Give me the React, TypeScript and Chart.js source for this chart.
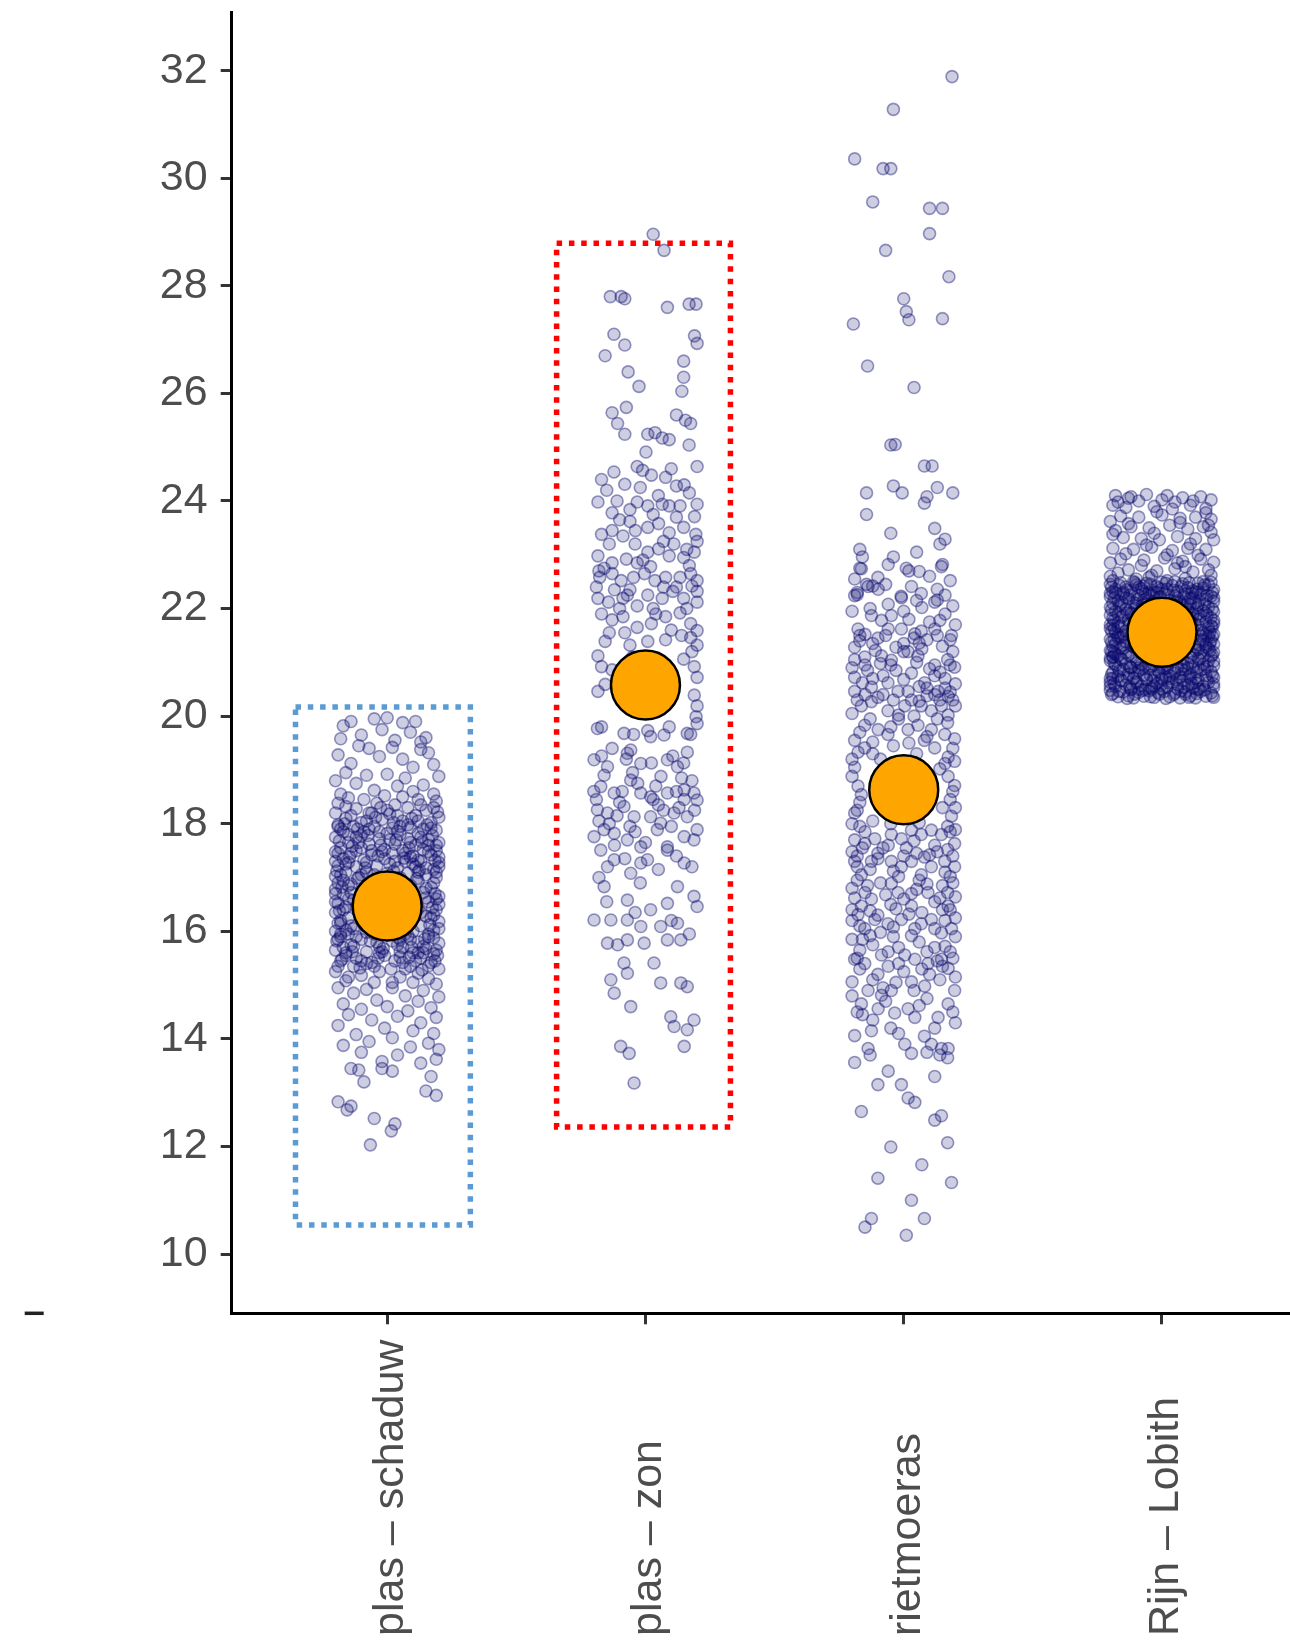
import { useEffect, useRef } from "react";
import { Chart, registerables } from "chart.js";

Chart.register(...registerables);

// ---------- data ----------
const categories = ["plas – schaduw", "plas – zon", "rietmoeras", "Rijn – Lobith"];
const yTickValues = [10, 12, 14, 16, 18, 20, 22, 24, 26, 28, 30, 32];
const means = [16.47, 20.58, 18.63, 21.56];

// jittered observations: [offset from category centre, value]
const schaduwPts: [number, number][] = [
  [-0.17,19.82],[-0.14,19.9],[-0.05,19.95],[0.0,19.97],[0.06,19.88],[0.11,19.9],[-0.02,19.75],[0.09,19.7],[-0.1,19.65],[0.15,19.6],[-0.18,19.58],[0.03,19.55],[0.13,19.52],
  [-0.11,19.45],[-0.07,19.4],[0.02,19.42],[0.13,19.38],[0.16,19.32],[-0.19,19.28],[-0.03,19.25],[0.06,19.2],[-0.14,19.12],[0.18,19.1],[0.1,19.05],
  [-0.16,18.95],[-0.08,18.9],[0.0,18.92],[0.07,18.85],[0.2,18.88],[-0.2,18.8],[-0.12,18.75],[0.04,18.7],[0.14,18.72],[-0.05,18.62],[0.1,18.6],[-0.18,18.55],[0.18,18.55],[-0.01,18.52],[0.06,18.5],
  [-0.15,18.48],[-0.09,18.45],[0.12,18.45],[0.19,18.42],[-0.19,18.38],[-0.04,18.38],[0.03,18.35],[0.08,18.3],[-0.12,18.28],[0.15,18.25],[-0.2,18.2],[-0.07,18.2],[0.01,18.18],[0.11,18.15],[0.2,18.12],[-0.16,18.1],[-0.02,18.08],[0.06,18.05],[0.17,18.02],[-0.1,18.02],
  [-0.19,17.98],[-0.13,17.95],[-0.05,17.95],[0.02,17.92],[0.09,17.93],[0.14,17.9],[0.19,17.88],[-0.17,17.85],[-0.09,17.85],[0.0,17.82],[0.05,17.8],[0.12,17.82],[-0.2,17.75],[-0.12,17.75],[-0.03,17.72],[0.08,17.72],[0.16,17.7],[0.2,17.65],[-0.15,17.65],[-0.07,17.62],[0.03,17.62],[0.11,17.6],[-0.18,17.55],[-0.1,17.55],[-0.01,17.52],[0.06,17.5],[0.14,17.52],[0.19,17.5],
  [-0.2,17.48],[-0.14,17.45],[-0.06,17.42],[0.02,17.45],[0.1,17.4],[0.17,17.42],[-0.17,17.35],[-0.09,17.32],[-0.01,17.35],[0.07,17.3],[0.13,17.3],[0.2,17.28],[-0.19,17.22],[-0.12,17.2],[-0.04,17.22],[0.04,17.18],[0.11,17.2],[0.18,17.15],[-0.16,17.1],[-0.08,17.1],[0.0,17.08],[0.08,17.08],[0.15,17.05],[-0.2,17.02],[-0.11,17.0],[0.05,17.0],[0.19,17.0],
  [-0.17,16.95],[-0.03,16.95],[0.12,16.93],[-0.14,16.88],[-0.07,16.85],[0.02,16.88],[0.09,16.85],[0.17,16.82],[-0.2,16.78],[-0.1,16.75],[0.05,16.75],[0.14,16.72],[-0.17,16.68],[-0.05,16.65],[0.2,16.65],[0.1,16.62],[-0.13,16.58],[0.0,16.58],[0.16,16.55],[-0.19,16.52],[-0.08,16.5],[0.07,16.52],
  [-0.16,16.45],[-0.02,16.45],[0.12,16.42],[0.19,16.4],[-0.2,16.35],[-0.11,16.35],[0.04,16.32],[0.15,16.28],[-0.15,16.25],[-0.06,16.22],[0.09,16.2],[0.2,16.18],[-0.18,16.15],[-0.09,16.12],[0.01,16.12],[0.13,16.1],[-0.13,16.05],[0.06,16.05],[0.18,16.02],[-0.2,16.0],
  [-0.15,15.95],[-0.05,15.95],[0.08,15.92],[0.16,15.9],[-0.19,15.85],[-0.1,15.85],[0.02,15.82],[0.12,15.8],[0.2,15.78],[-0.14,15.75],[-0.03,15.72],[0.06,15.7],[0.15,15.68],[-0.2,15.65],[-0.08,15.62],[0.1,15.6],[0.18,15.58],[-0.16,15.55],[-0.01,15.55],[0.05,15.52],[-0.12,15.5],[0.13,15.5],
  [-0.18,15.45],[-0.06,15.42],[0.03,15.45],[0.17,15.42],[-0.13,15.35],[0.09,15.35],[0.2,15.3],[-0.2,15.25],[-0.03,15.25],[0.12,15.22],[-0.1,15.18],[0.05,15.15],[0.16,15.12],[-0.16,15.08],[-0.05,15.05],[0.1,15.05],[0.19,15.02],
  [-0.19,14.95],[-0.08,14.92],[0.02,14.95],[0.14,14.9],[-0.13,14.85],[0.07,14.8],[0.2,14.78],[-0.04,14.72],[0.12,14.7],[-0.17,14.65],[0.0,14.6],[0.17,14.58],[-0.1,14.55],[0.08,14.52],
  [-0.15,14.45],[0.04,14.42],[0.19,14.4],[-0.06,14.35],[0.13,14.3],[-0.19,14.25],[-0.01,14.2],[0.1,14.15],[0.18,14.1],[-0.12,14.08],[0.02,14.02],
  [-0.07,13.95],[0.16,13.92],[-0.17,13.88],[0.09,13.85],[0.2,13.8],[-0.1,13.75],[0.04,13.7],[0.19,13.62],[-0.02,13.58],[0.13,13.55],
  [-0.14,13.45],[-0.11,13.42],[-0.02,13.45],[0.02,13.4],[0.17,13.3],[0.15,13.03],[-0.09,13.2],
  [-0.19,12.83],[-0.155,12.68],[-0.14,12.75],[0.19,12.95],[-0.05,12.52],
  [-0.065,12.03],[0.016,12.29],[0.03,12.42],
];
const schaduwCore: [number, number][] = [
  [-0.18,17.9],[-0.1,17.78],[0.04,17.86],[0.16,17.6],[-0.06,17.5],[0.09,17.38],[-0.15,17.28],[0.01,17.25],[0.15,17.18],[-0.05,17.05],[0.12,17.1],[-0.19,16.9],[0.18,16.9],[-0.15,16.6],[0.18,16.3],[-0.18,16.2],[0.16,15.95],[-0.17,15.7],[0.19,15.65],[-0.08,15.4],
  [0.07,15.3],[-0.19,15.35],[0.14,15.6],[-0.12,15.9],[0.1,16.0],[-0.14,16.1],[-0.2,16.55],[0.2,16.5],[0.2,17.2],[-0.2,17.3],[0.08,17.98],[-0.08,18.05],[0.13,18.35],[-0.16,18.32],[0.0,18.25],[0.05,15.85],[-0.03,15.6],[0.11,15.45],[-0.15,15.15],[0.02,15.05],
  [-0.185,17.68],[-0.135,17.58],[-0.075,17.78],[-0.025,17.6],[0.035,17.7],[0.085,17.55],[0.135,17.66],[0.175,17.78],
  [-0.195,17.12],[-0.145,17.38],[-0.085,17.18],[-0.035,17.4],[0.025,17.12],[0.065,17.36],[0.125,17.14],[0.185,17.32],
  [-0.175,16.82],[-0.115,16.98],[0.115,16.98],[0.185,16.7],[-0.185,16.38],[0.175,16.44],[-0.16,16.02],[0.165,16.12],
  [-0.195,15.82],[-0.135,15.62],[-0.065,15.82],[-0.015,15.68],[0.045,15.88],[0.095,15.7],[0.145,15.86],[0.195,15.55],
  [-0.175,15.48],[-0.105,15.32],[-0.035,15.5],[0.015,15.3],[0.085,15.52],[0.135,15.28],[0.185,15.45],
  [-0.165,18.0],[-0.115,17.9],[-0.045,18.12],[0.025,18.02],[0.095,18.1],[0.155,17.98],[0.195,18.22],[-0.025,18.3],
  [-0.09,16.15],[0.08,16.28],[-0.12,16.45],[0.13,16.35],[-0.14,16.72],[0.15,16.62],[-0.1,17.05],[0.1,17.25],
  [-0.18,15.95],[0.07,15.95],[-0.05,15.35],[0.05,15.62],
  [-0.19,17.95],[-0.15,17.8],[-0.11,17.65],[-0.07,17.9],[-0.03,17.85],[0.01,17.7],[0.05,17.95],[0.09,17.65],[0.13,17.75],[0.17,17.92],[0.19,17.6],
  [-0.19,17.45],[-0.16,17.25],[-0.12,17.5],[-0.08,17.28],[-0.02,17.48],[0.03,17.3],[0.07,17.45],[0.12,17.32],[0.16,17.48],[0.2,17.38],
  [-0.18,17.05],[-0.15,16.85],[0.15,16.8],[0.19,17.1],[-0.2,16.7],[0.19,16.6],[-0.17,16.4],[0.17,16.25],[-0.19,16.15],[0.2,16.05],
  [-0.18,15.9],[-0.13,15.72],[-0.08,15.98],[-0.04,15.8],[0.0,15.98],[0.04,15.75],[0.09,15.85],[0.14,15.72],[0.18,15.88],
  [-0.16,15.6],[-0.1,15.45],[-0.02,15.62],[0.06,15.42],[0.12,15.6],[0.16,15.36],[-0.14,18.15],[-0.06,18.2],[0.04,18.15],[0.12,18.05],[0.18,18.3],
];

const zonPts: [number, number][] = [
  [0.03,28.96],[0.072,28.66],
  [-0.136,27.8],[-0.094,27.8],[-0.08,27.76],[0.085,27.6],[0.169,27.66],[0.196,27.66],
  [-0.122,27.1],[-0.08,26.9],[0.19,27.07],[0.2,26.93],
  [-0.156,26.7],[0.148,26.6],[0.148,26.3],[0.141,26.04],[-0.067,26.4],[-0.025,26.13],
  [-0.129,25.64],[-0.074,25.74],[-0.108,25.44],[-0.08,25.24],[0.12,25.6],[0.155,25.5],[0.175,25.44],[0.009,25.24],[0.037,25.27],[0.065,25.17],[0.092,25.14],[0.169,25.04],[0.002,24.91],
  [0.2,24.64],[-0.122,24.54],[-0.08,24.31],[-0.032,24.64],[-0.011,24.57],[0.023,24.48],[0.078,24.44],[0.12,24.28],
  [-0.184,23.98],[-0.129,23.78],[-0.06,23.84],[-0.032,23.98],[0.009,23.91],[0.065,23.94],[0.092,23.91],[0.134,23.91],[0.2,23.94],[0.19,23.71],
  [-0.17,23.38],[-0.129,23.45],[-0.087,23.35],[-0.039,23.45],[0.009,23.51],[0.051,23.58],[0.092,23.41],[0.148,23.51],[0.2,23.25],[0.195,23.38],
  [-0.184,22.98],[-0.129,22.85],[-0.074,22.92],[-0.032,22.85],[0.009,23.05],[0.051,23.11],[0.092,22.98],[0.148,22.95],[0.189,23.05],
  [-0.177,22.58],[-0.129,22.65],[-0.094,22.52],[-0.046,22.58],[-0.004,22.65],[0.037,22.52],[0.078,22.58],[0.134,22.58],[0.175,22.65],[0.2,22.52],
  [-0.184,22.19],[-0.143,22.12],[-0.087,22.19],[-0.032,22.05],[0.009,22.25],[0.065,22.19],[0.106,22.32],[0.148,22.19],[0.2,22.32],[0.2,22.12],
  [-0.129,21.79],[-0.087,21.85],[-0.032,21.65],[0.023,21.72],[0.078,21.85],[0.134,21.92],[0.175,21.72],[0.2,21.59],
  [-0.156,21.39],[-0.06,21.32],[0.009,21.39],[0.078,21.42],[0.175,21.46],[0.2,21.32],
  [-0.184,21.12],[-0.17,20.92],[-0.129,20.86],[0.148,21.06],[0.189,20.92],[0.2,20.72],
  [-0.184,20.46],[-0.156,20.59],[0.189,20.39],[0.2,20.19],[0.196,19.99],
  [-0.17,19.8],[-0.046,19.66],[0.009,19.73],[0.092,19.8],[0.175,19.66],[0.2,19.86],
  [-0.17,19.26],[-0.129,19.4],[-0.074,19.2],[0.023,19.13],[0.106,19.26],[0.148,19.13],[0.162,19.33],
  [-0.15,24.2],[0.05,24.1],[0.17,24.15],[-0.1,23.65],[0.12,23.7],[-0.04,23.2],[0.07,23.25],[0.17,22.8],[-0.16,22.75],[0.02,22.78],[-0.06,22.35],[0.12,22.4],[-0.19,22.4],[0.16,22.0],[-0.1,22.0],[0.04,21.9],[-0.14,21.55],[0.1,21.6],[-0.05,21.1],[0.18,21.2],
  [-0.17,24.4],[-0.02,24.25],[0.1,24.6],[-0.11,24.0],[0.15,24.3],[-0.06,23.62],[0.03,23.75],[0.16,23.1],[-0.14,23.2],[-0.01,22.9],[0.11,23.2],[-0.18,22.7],[0.07,22.4],[-0.07,22.25],[0.18,22.42],[-0.12,22.35],[0.03,22.0],[-0.17,21.9],[0.14,21.5],[-0.08,21.55],
  [-0.186,19.77],[-0.083,19.68],[0.02,19.62],[0.072,19.65],[0.162,19.68],
  [-0.199,19.19],[-0.147,19.06],[-0.057,19.37],[-0.07,19.31],[-0.018,19.12],[0.085,19.19],[0.124,19.06],
  [-0.173,18.69],[-0.121,18.57],[-0.057,18.81],[-0.018,18.57],[0.02,18.5],[0.085,18.57],[0.15,18.63],[0.188,18.57],[0.2,18.44],
  [-0.186,18.26],[-0.147,18.2],[-0.083,18.32],[-0.044,18.13],[0.02,18.13],[0.059,18.01],[0.111,18.2],[0.162,18.13],[0.2,17.89],
  [-0.199,17.76],[-0.16,17.89],[-0.121,17.82],[-0.07,17.7],[-0.018,17.57],[0.046,17.89],[0.085,17.57],[0.15,17.76],[0.188,17.7],
  [-0.173,17.51],[-0.121,17.33],[-0.147,17.2],[-0.057,17.08],[-0.018,17.27],[0.008,17.33],[0.085,17.51],[0.15,17.27],
  [-0.16,16.83],[-0.07,16.58],[0.02,16.4],[0.085,16.52],[0.124,16.83],[0.188,16.65],[0.2,16.46],
  [-0.199,16.21],[-0.134,16.21],[-0.07,16.21],[-0.018,16.09],[0.059,16.09],[0.124,16.15],[0.085,15.84],[0.137,15.84],[-0.147,15.78],[-0.108,15.75],[-0.07,15.84],[-0.005,15.78],
  [-0.083,15.41],[-0.07,15.22],[0.033,15.41],[-0.134,15.1],[-0.121,14.85],[-0.057,14.6],[0.059,15.04],[0.137,15.04],[0.162,14.97],
  [0.098,14.41],[0.111,14.23],[0.162,14.17],[0.188,14.35],[0.15,13.86],
  [-0.096,13.86],[-0.063,13.73],
  [-0.044,13.18],
  [-0.19,18.45],[-0.1,18.4],[-0.03,18.75],[0.05,18.35],[0.13,18.3],[0.18,18.8],[-0.14,18.0],[-0.06,17.95],[0.1,17.95],[-0.18,18.05],[0.04,18.7],[0.15,18.45],[-0.12,17.6],[0.12,17.4],[-0.04,17.85],[0.19,18.25],[-0.2,18.6],[0.07,18.25],[-0.09,18.6],[0.0,17.65],
  [-0.16,18.9],[-0.05,18.95],[0.06,18.88],[0.14,18.85],[-0.11,18.15],[0.03,18.45],[0.12,18.6],[-0.08,17.35],[0.05,17.15],[0.18,17.2],[-0.18,17.0],[-0.02,16.9],[0.1,16.2],[-0.15,16.55],[0.17,15.95],[-0.04,16.35],
];

const rietPts: [number, number][] = [
  [0.187,31.89],[-0.04,31.28],[-0.19,30.36],[-0.08,30.18],[-0.05,30.18],[-0.12,29.56],[0.1,29.44],[0.15,29.44],[0.1,28.97],[-0.07,28.66],[0.175,28.17],[0.0,27.76],[0.01,27.52],[0.02,27.37],[0.15,27.39],[-0.195,27.29],[-0.14,26.51],[0.04,26.11],[-0.05,25.04],[0.08,24.65],
  [-0.033,25.05],[0.11,24.65],[-0.144,24.15],[-0.04,24.28],[-0.006,24.15],[0.09,24.08],[0.13,24.25],[0.19,24.15],[-0.144,23.75],[0.12,23.49],[0.16,23.29],[0.08,23.96],[0.14,23.2],[-0.05,23.4],[-0.17,23.1],[0.05,23.05],
  [-0.16,22.96],[-0.17,22.75],[-0.04,22.96],[0.01,22.75],[0.06,22.69],[0.15,22.82],[-0.164,22.74],[-0.06,22.82],[0.02,22.7],[0.146,22.78],[-0.19,22.55],[0.1,22.6],[-0.1,22.58],[0.18,22.52],
  [-0.144,22.45],[-0.12,22.42],[-0.18,22.26],[-0.01,22.23],[0.13,22.36],[0.13,22.16],[-0.19,22.24],[-0.138,22.41],[-0.099,22.36],[-0.009,22.2],[0.03,22.41],[0.068,22.28],[0.12,22.12],[0.19,22.05],[-0.06,22.08],[0.07,22.02],
  [-0.177,21.62],[-0.125,21.87],[-0.086,21.78],[-0.048,21.87],[-0.009,21.62],[0.043,21.53],[0.068,21.58],[0.12,21.62],[0.185,21.5],[-0.2,21.95],[0.16,21.9],[0.0,21.95],[-0.15,21.52],[0.1,21.75],[0.2,21.7],
  [-0.19,21.05],[-0.151,21.1],[-0.086,21.12],[-0.048,21.04],[0.017,21.2],[0.055,21.12],[0.12,20.95],[0.197,20.91],[-0.17,21.4],[-0.1,21.45],[0.0,21.35],[0.09,21.42],[0.15,21.3],[0.19,21.2],[-0.03,21.28],[0.04,21.45],
  [-0.19,20.46],[-0.125,20.54],[-0.061,20.62],[-0.022,20.46],[0.017,20.46],[0.081,20.62],[0.133,20.46],[0.172,20.37],[-0.2,20.9],[-0.14,20.85],[-0.08,20.75],[0.03,20.8],[0.1,20.88],[0.16,20.7],[0.2,20.6],[-0.05,20.95],[0.06,20.55],
  [-0.164,20.19],[-0.125,20.27],[-0.061,20.1],[0.004,20.19],[0.068,20.19],[0.107,20.1],[0.146,20.19],[0.172,20.02],[0.2,20.19],[-0.2,20.05],[-0.1,20.35],[0.03,20.3],[0.12,20.4],[-0.02,20.02],[0.18,20.45],
  [-0.151,19.83],[-0.099,19.75],[-0.061,19.66],[0.017,19.75],[0.055,19.83],[0.107,19.75],[0.159,19.66],[0.197,19.58],[-0.19,19.55],[-0.02,19.95],[0.13,19.95],[-0.12,19.52],[0.08,19.55],
  [-0.177,19.33],[-0.151,19.41],[0.12,19.41],[0.172,19.24],[0.197,19.16],[-0.09,19.2],[-0.04,19.45],[0.05,19.3],[0.0,19.05],[-0.19,19.05],[0.14,19.02],
  [-0.2,18.88],[-0.177,18.7],[-0.164,18.54],[0.172,18.88],[0.197,18.71],[0.19,18.6],
  [0.185,18.14],[0.2,17.89],[-0.19,18.2],[-0.17,18.4],[-0.12,18.05],[0.15,18.3],[0.06,18.02],[-0.05,18.0],
  [-0.19,17.7],[-0.151,17.63],[-0.112,17.72],[-0.048,17.8],[-0.009,17.72],[0.03,17.88],[0.068,17.8],[0.107,17.88],[0.146,17.8],[0.197,17.63],[-0.08,17.55],[0.17,17.52],[0.01,17.55],[-0.17,17.95],
  [-0.19,17.3],[-0.164,17.05],[-0.125,17.3],[-0.048,17.3],[-0.009,17.2],[0.03,17.3],[0.068,17.05],[0.107,17.2],[0.159,17.3],[0.197,17.2],[-0.1,17.45],[0.05,17.45],[0.13,17.48],[-0.02,17.02],[0.18,17.02],[-0.2,17.48],
  [-0.2,16.8],[-0.164,16.47],[-0.125,16.6],[-0.048,16.89],[-0.022,16.72],[0.03,16.47],[0.094,16.72],[0.12,16.55],[0.172,16.47],[0.2,16.64],[-0.09,16.9],[0.0,16.6],[0.15,16.85],[-0.18,16.95],[0.06,16.95],
  [-0.177,16.31],[-0.151,16.05],[-0.112,16.22],[-0.061,16.14],[-0.009,16.22],[0.043,16.05],[0.068,16.14],[0.107,16.22],[0.146,15.97],[0.185,16.05],[-0.2,16.4],[-0.03,16.42],[0.15,16.4],[0.2,16.25],[-0.09,15.98],
  [-0.19,15.48],[-0.151,15.4],[-0.086,15.56],[0.004,15.56],[0.043,15.48],[0.094,15.4],[0.146,15.48],[0.172,15.31],[-0.2,15.85],[-0.12,15.75],[-0.04,15.9],[0.06,15.8],[0.12,15.7],[0.2,15.9],[-0.17,15.65],
  [-0.2,15.06],[-0.138,14.9],[-0.086,14.81],[-0.048,14.9],[0.03,15.06],[0.081,14.98],[0.197,14.9],[-0.17,15.3],[-0.1,15.2],[0.0,15.25],[0.1,15.2],[0.2,15.15],[0.15,15.35],[-0.02,15.4],
  [-0.164,14.65],[-0.099,14.56],[-0.035,14.48],[0.017,14.56],[0.043,14.4],[0.133,14.4],[0.172,14.65],[-0.19,14.06],[-0.125,14.15],[-0.138,13.82],[0.004,13.9],[0.03,13.73],[0.107,13.9],[0.146,13.82],[0.172,13.82],[-0.05,14.2],[0.09,14.75],[-0.2,14.8],[0.2,14.3],[-0.08,14.95],
  [-0.19,13.56],[-0.13,13.7],[0.14,13.7],[0.17,13.65],[0.09,13.75],[-0.1,13.15],[-0.009,13.15],[0.017,12.9],[0.043,12.82],[-0.164,12.65],[0.12,12.49],[0.146,12.57],[0.17,12.07],[-0.06,13.4],[0.12,13.3],
  [-0.05,11.99],[0.07,11.66],[-0.1,11.41],[0.185,11.33],[0.03,11.0],[-0.15,10.5],[-0.125,10.66],[0.08,10.66],[0.01,10.35],
];
const rietCore: [number, number][] = [
  [-0.18,22.3],[-0.07,22.45],[0.05,22.15],[0.16,22.25],[-0.13,22.0],[0.02,21.8],[0.14,21.78],[-0.06,21.62],
  [-0.19,21.28],[-0.11,21.22],[0.07,21.25],[0.17,21.05],[-0.03,20.85],[0.12,20.75],[-0.16,20.62],[0.0,20.68],
  [-0.08,20.4],[0.09,20.38],[0.19,20.3],[-0.18,20.3],[-0.13,19.95],[0.04,20.0],[0.17,19.88],[-0.05,19.8],
  [-0.17,19.7],[0.09,19.62],[0.19,19.4],[-0.12,19.3],[0.02,19.5],[-0.2,19.2],[0.16,19.12],
  [-0.18,18.25],[-0.15,17.85],[0.18,18.45],[0.17,17.95],[-0.2,18.0],[0.2,18.3],
  [-0.16,17.55],[-0.06,17.6],[0.04,17.68],[0.12,17.6],[0.18,17.85],[-0.13,17.15],[-0.04,17.12],[0.08,17.38],[0.16,17.1],[-0.18,17.2],
  [-0.14,16.85],[-0.05,16.5],[0.05,16.78],[0.14,16.62],[-0.19,16.62],[0.19,16.9],[-0.1,16.3],[0.02,16.32],[0.12,16.05],[-0.17,16.1],[0.18,16.4],
  [-0.13,15.92],[-0.02,15.7],[0.09,15.62],[0.16,15.72],[-0.18,15.5],[-0.06,15.35],[0.07,15.3],[0.19,15.5],[-0.12,15.1],[0.04,14.9],[0.14,15.1],[-0.03,15.05],
  [-0.16,14.45],[-0.07,14.7],[0.06,14.62],[0.12,14.2],[0.19,14.5],[-0.12,14.35],[-0.02,14.1],[0.08,14.05],[-0.18,14.5],
  [-0.17,21.5],[-0.12,21.35],[-0.07,21.5],[0.0,21.2],[0.06,21.36],[0.13,21.5],[0.18,21.42],[-0.15,20.95],[-0.09,20.98],[0.05,21.0],[0.14,20.82],[0.18,20.95],
  [-0.19,20.72],[-0.12,20.7],[0.09,20.52],[0.16,20.52],[-0.15,20.4],[-0.04,20.3],[0.06,20.28],[0.14,20.3],
  [-0.18,17.4],[-0.1,17.35],[0.0,17.4],[0.1,17.42],[0.19,17.4],[-0.15,16.72],[-0.07,16.68],[0.03,16.7],[0.09,16.88],[0.17,16.72],
  [-0.2,16.2],[-0.13,16.38],[-0.04,16.08],[0.07,16.35],[0.16,16.2],[-0.16,15.85],[-0.06,15.62],[0.03,15.92],[0.13,15.45],[0.18,15.62],
];

const rijnPts: [number, number][] = [
  [-0.18,24.1],[-0.12,24.08],[-0.06,24.12],[0.02,24.1],[0.08,24.06],[0.15,24.08],[0.19,24.02],
  [-0.19,23.92],[-0.14,23.88],[-0.03,23.9],[0.04,23.85],[0.11,23.92],[0.17,23.86],
  [-0.16,23.72],[-0.09,23.7],[0.0,23.74],[0.07,23.68],[0.13,23.7],[0.19,23.66],[-0.2,23.62],
  [-0.12,23.52],[-0.05,23.5],[0.03,23.55],[0.1,23.48],[0.16,23.52],[-0.18,23.45],
  [-0.15,23.32],[-0.08,23.3],[-0.01,23.28],[0.06,23.34],[0.13,23.3],[0.2,23.28],
  [-0.19,23.12],[-0.11,23.1],[-0.04,23.14],[0.04,23.08],[0.1,23.12],[0.17,23.1],
  [-0.16,22.92],[-0.07,22.9],[0.01,22.94],[0.08,22.88],[0.15,22.92],[0.2,22.86],[-0.2,22.85],
  [-0.13,22.72],[-0.02,22.7],[0.05,22.74],[0.12,22.68],[0.18,22.72],[-0.17,22.66],
  [-0.1,22.55],[-0.05,22.58],[0.02,22.52],[0.09,22.56],[0.16,22.5],[-0.19,22.52],
  [-0.17,23.98],[-0.09,24.0],[0.05,23.98],[0.12,24.0],[-0.02,23.8],[0.17,23.78],[-0.13,23.58],[0.07,23.6],[0.19,23.42],[-0.19,23.38],[-0.03,23.4],[0.11,23.2],[-0.14,23.02],[0.02,23.0],[0.14,22.99],[-0.08,22.8],[0.09,22.78],[0.19,22.62],[-0.04,22.62],[-0.2,22.6],[-0.13,24.05],[0.0,24.02],[0.18,23.55],[-0.06,23.18],[0.06,22.85],
  [-0.2,22.45],[-0.18,22.36],[-0.16,22.48],[-0.14,22.4],[-0.12,22.33],[-0.1,22.44],[-0.08,22.37],[-0.06,22.47],[-0.04,22.34],[-0.02,22.41],[0,22.49],[0.02,22.36],[0.04,22.43],[0.06,22.32],[0.08,22.46],[0.1,22.39],[0.12,22.33],[0.14,22.47],[0.16,22.38],[0.18,22.44],[0.2,22.35],[-0.19,22.31],[-0.11,22.5],[-0.03,22.3],[0.05,22.5],[0.13,22.31],[0.19,22.49],[-0.07,22.42],
  [-0.2,22.22],[-0.17,22.14],[-0.15,22.27],[-0.13,22.18],[-0.11,22.11],[-0.09,22.25],[-0.07,22.16],[-0.05,22.29],[-0.03,22.13],[-0.01,22.21],[0.01,22.28],[0.03,22.15],[0.05,22.24],[0.07,22.12],[0.09,22.27],[0.11,22.19],[0.13,22.11],[0.15,22.26],[0.17,22.17],[0.19,22.23],[0.2,22.13],[-0.18,22.29],[-0.1,22.1],[-0.02,22.3],[0.06,22.2],[0.14,22.3],[-0.06,22.19],[0.1,22.1],
  [-0.2,22.03],[-0.18,21.95],[-0.16,22.07],[-0.14,21.99],[-0.12,21.92],[-0.1,22.05],[-0.08,21.97],[-0.06,22.09],[-0.04,21.93],[-0.02,22.01],[0,22.08],[0.02,21.94],[0.04,22.04],[0.06,21.91],[0.08,22.06],[0.1,21.98],[0.12,21.92],[0.14,22.07],[0.16,21.96],[0.18,22.03],[0.2,21.94],[-0.19,22.1],[-0.09,21.9],[0.03,22.1],[0.11,22.09],[-0.03,21.96],
  [-0.19,21.82],[-0.17,21.74],[-0.15,21.87],[-0.13,21.78],[-0.11,21.71],[-0.09,21.85],[-0.07,21.76],[-0.05,21.88],[-0.03,21.73],[-0.01,21.81],[0.01,21.89],[0.03,21.75],[0.05,21.83],[0.07,21.72],[0.09,21.86],[0.11,21.77],[0.13,21.71],[0.15,21.86],[0.17,21.75],[0.19,21.83],[0.2,21.72],[-0.2,21.7],[-0.12,21.9],[0.0,21.7],[0.14,21.9],[0.08,21.79],
  [-0.2,21.63],[-0.18,21.55],[-0.16,21.67],[-0.14,21.58],[-0.12,21.51],[-0.1,21.64],[-0.08,21.56],[0.08,21.66],[0.1,21.53],[0.12,21.61],[0.14,21.69],[0.16,21.55],[0.18,21.64],[0.2,21.52],[-0.19,21.69],[0.19,21.68],[-0.04,21.62],[0.03,21.55],[0.0,21.68],[-0.17,21.5],
  [-0.2,21.43],[-0.18,21.35],[-0.16,21.47],[-0.14,21.38],[-0.12,21.31],[-0.1,21.44],[0.1,21.36],[0.12,21.47],[0.14,21.33],[0.16,21.41],[0.18,21.49],[0.2,21.34],[-0.19,21.3],[0.19,21.4],[-0.06,21.45],[0.05,21.33],[0.0,21.42],[-0.15,21.5],[0.15,21.5],[-0.03,21.3],
  [-0.2,21.22],[-0.18,21.15],[-0.16,21.27],[-0.14,21.18],[-0.12,21.11],[-0.1,21.25],[-0.08,21.16],[-0.06,21.29],[0.06,21.13],[0.08,21.21],[0.1,21.28],[0.12,21.15],[0.14,21.24],[0.16,21.12],[0.18,21.26],[0.2,21.19],[-0.19,21.1],[0.19,21.11],[-0.02,21.14],[0.02,21.27],[-0.11,21.29],[0.13,21.29],
  [-0.2,21.03],[-0.18,20.95],[-0.16,21.07],[-0.14,20.98],[-0.12,20.91],[-0.1,21.04],[-0.08,20.96],[-0.06,21.08],[-0.04,20.93],[-0.02,21.01],[0,21.08],[0.02,20.94],[0.04,21.04],[0.06,20.91],[0.08,21.06],[0.1,20.98],[0.12,20.92],[0.14,21.07],[0.16,20.96],[0.18,21.03],[0.2,20.94],[-0.19,21.1],[-0.09,20.9],[0.03,21.1],[0.11,21.09],[-0.03,20.96],
  [-0.19,20.82],[-0.17,20.74],[-0.15,20.87],[-0.13,20.78],[-0.11,20.71],[-0.09,20.85],[-0.07,20.76],[-0.05,20.88],[-0.03,20.73],[-0.01,20.81],[0.01,20.89],[0.03,20.75],[0.05,20.83],[0.07,20.72],[0.09,20.86],[0.11,20.77],[0.13,20.71],[0.15,20.86],[0.17,20.75],[0.19,20.83],[0.2,20.72],[-0.2,20.7],[-0.12,20.9],[0.0,20.7],[0.14,20.9],[0.08,20.79],
  [-0.2,20.63],[-0.18,20.55],[-0.16,20.67],[-0.14,20.58],[-0.12,20.51],[-0.1,20.64],[-0.08,20.56],[-0.06,20.68],[-0.04,20.53],[-0.02,20.61],[0,20.68],[0.02,20.54],[0.04,20.64],[0.06,20.51],[0.08,20.66],[0.1,20.58],[0.12,20.52],[0.14,20.67],[0.16,20.56],[0.18,20.63],[0.2,20.54],[-0.19,20.7],[-0.09,20.5],[0.03,20.7],[0.11,20.69],[-0.03,20.56],
  [-0.19,20.42],[-0.17,20.36],[-0.15,20.45],[-0.13,20.38],[-0.11,20.34],[-0.09,20.44],[-0.07,20.37],[-0.05,20.47],[-0.03,20.35],[-0.01,20.41],[0.01,20.46],[0.03,20.36],[0.05,20.43],[0.07,20.34],[0.09,20.45],[0.11,20.38],[0.13,20.34],[0.15,20.46],[0.17,20.37],[0.19,20.43],[0.2,20.35],[-0.2,20.48],[-0.12,20.49],[0.0,20.5],[0.14,20.5],
];
const rijnCore: [number, number][] = [
  [-0.195,22.4],[-0.165,22.43],[-0.135,22.35],[-0.105,22.48],[-0.075,22.32],[-0.045,22.45],[-0.015,22.38],[0.015,22.47],[0.045,22.34],[0.075,22.41],[0.105,22.48],[0.135,22.36],[0.165,22.44],[0.195,22.3],[-0.09,22.4],[0.09,22.33],[0.0,22.36],[-0.15,22.3],
  [-0.185,22.2],[-0.155,22.12],[-0.125,22.25],[-0.095,22.17],[-0.065,22.28],[-0.035,22.1],[-0.005,22.22],[0.025,22.26],[0.055,22.13],[0.085,22.22],[0.115,22.28],[0.145,22.14],[0.175,22.25],[0.2,22.2],[-0.2,22.28],[-0.04,22.24],[0.12,22.2],[-0.14,22.2],
  [-0.195,21.98],[-0.165,22.05],[-0.135,21.92],[-0.105,22.0],[-0.075,22.07],[-0.045,21.98],[-0.015,21.91],[0.015,22.04],[0.045,21.97],[0.075,22.09],[0.105,21.93],[0.135,22.01],[0.165,22.08],[0.195,21.99],[-0.02,22.06],[0.06,22.0],[-0.17,21.9],[0.17,21.92],
  [-0.185,21.78],[-0.155,21.84],[-0.125,21.73],[-0.095,21.8],[-0.065,21.88],[-0.035,21.79],[-0.005,21.74],[0.025,21.86],[0.055,21.76],[0.085,21.83],[0.115,21.72],[0.145,21.8],[0.175,21.88],[0.2,21.78],[-0.2,21.88],[0.04,21.7],[-0.1,21.72],[0.12,21.88],
  [-0.195,21.58],[-0.17,21.66],[-0.15,21.52],[0.15,21.6],[0.17,21.52],[0.195,21.66],[-0.185,21.62],[0.185,21.56],
  [-0.195,21.38],[-0.17,21.46],[-0.15,21.32],[0.15,21.42],[0.17,21.34],[0.195,21.48],[-0.185,21.42],[0.185,21.36],
  [-0.195,21.2],[-0.17,21.12],[-0.15,21.26],[0.15,21.18],[0.17,21.28],[0.195,21.14],[-0.185,21.18],[0.185,21.22],[-0.13,21.14],[0.13,21.22],
  [-0.185,20.98],[-0.155,21.05],[-0.125,20.92],[-0.095,21.0],[-0.065,20.93],[-0.035,21.06],[-0.005,20.95],[0.025,21.02],[0.055,21.07],[0.085,20.93],[0.115,21.0],[0.145,21.05],[0.175,20.92],[0.2,21.02],[-0.2,21.08],[0.0,20.9],
  [-0.195,20.78],[-0.165,20.84],[-0.135,20.72],[-0.105,20.8],[-0.075,20.88],[-0.045,20.76],[-0.015,20.84],[0.015,20.72],[0.045,20.8],[0.075,20.87],[0.105,20.74],[0.135,20.82],[0.165,20.88],[0.195,20.76],[-0.06,20.7],[0.1,20.9],[-0.17,20.9],[0.02,20.89],
  [-0.185,20.6],[-0.155,20.66],[-0.125,20.55],[-0.095,20.62],[-0.065,20.5],[-0.035,20.66],[-0.005,20.57],[0.025,20.62],[0.055,20.68],[0.085,20.54],[0.115,20.61],[0.145,20.5],[0.175,20.67],[0.2,20.6],[-0.2,20.56],[0.06,20.58],[-0.11,20.7],[0.13,20.62],
  [-0.195,20.4],[-0.165,20.46],[-0.135,20.33],[-0.105,20.41],[-0.075,20.48],[-0.045,20.36],[-0.015,20.44],[0.015,20.33],[0.045,20.4],[0.075,20.47],[0.105,20.35],[0.135,20.42],[0.165,20.49],[0.195,20.38],[-0.04,20.5],[0.09,20.41],
];

const groupPoints = [
  [...schaduwPts, ...schaduwCore],
  zonPts,
  [...rietPts, ...rietCore],
  [...rijnPts, ...rijnCore],
];

// highlight boxes: [xFrom, xTo, yFrom, yTo] in data units
const blueBox = [0.645, 1.322, 10.54, 20.17];
const redBox = [1.656, 2.329, 12.36, 28.79];

const FONT = "'Liberation Sans', Arial, Helvetica, sans-serif";

const overlayPlugin = {
  id: "overlay",
  afterDatasetsDraw(chart: any) {
    const { ctx, scales } = chart;
    const xs = scales.x;
    const ys = scales.y;
    const drawBox = (b: number[], color: string) => {
      const x0 = xs.getPixelForValue(b[0]);
      const x1 = xs.getPixelForValue(b[1]);
      const y0 = ys.getPixelForValue(b[3]);
      const y1 = ys.getPixelForValue(b[2]);
      ctx.save();
      ctx.strokeStyle = color;
      ctx.lineWidth = 5.5;
      ctx.lineCap = "butt";
      ctx.setLineDash([5.5, 6.8]);
      ctx.strokeRect(x0, y0, x1 - x0, y1 - y0);
      ctx.restore();
    };
    drawBox(blueBox, "#5B9BD5");
    drawBox(redBox, "#FF0000");
  },
  afterDraw(chart: any) {
    const { ctx, scales, chartArea } = chart;
    const xs = scales.x;
    ctx.save();
    ctx.font = `43px ${FONT}`;
    ctx.fillStyle = "#4D4D4D";
    ctx.textAlign = "left";
    ctx.textBaseline = "alphabetic";
    categories.forEach((label, i) => {
      const px = xs.getPixelForValue(i + 1);
      ctx.save();
      ctx.translate(px + 16, chartArea.bottom + 322.7);
      ctx.rotate(-Math.PI / 2);
      ctx.fillText(label, 0, 0);
      ctx.restore();
    });
    // small dash at far left (remnant of cropped element)
    ctx.strokeStyle = "#222";
    ctx.lineWidth = 3.5;
    ctx.beginPath();
    ctx.moveTo(chartArea.left - 207, chartArea.bottom);
    ctx.lineTo(chartArea.left - 188, chartArea.bottom);
    ctx.stroke();
    ctx.restore();
  },
};

export default function App() {
  const canvasRef = useRef<HTMLCanvasElement | null>(null);

  useEffect(() => {
    if (!canvasRef.current) return;
    const pointDatasets = groupPoints.map((pts, gi) => ({
      type: "scatter" as const,
      label: categories[gi],
      data: pts.map(([dx, v]) => ({ x: gi + 1 + dx, y: v })),
      backgroundColor: "rgba(10,10,110,0.2)",
      borderColor: "rgba(10,10,110,0.42)",
      pointRadius: 6,
      pointBorderWidth: 1.6,
      order: 2,
    }));
    const meanDataset = {
      type: "scatter" as const,
      label: "mean",
      data: means.map((m, i) => ({ x: i + 1, y: m })),
      backgroundColor: "#FFA500",
      borderColor: "#000000",
      pointRadius: 34.5,
      pointBorderWidth: 2.5,
      order: 1,
    };
    const gridOpts = {
      display: true,
      drawOnChartArea: false,
      drawTicks: true,
      tickLength: 11,
      tickWidth: 3,
      tickColor: "#333333",
    };
    const chart = new Chart(canvasRef.current, {
      type: "scatter",
      data: { datasets: [meanDataset, ...pointDatasets] as any },
      options: {
        responsive: false,
        animation: false,
        devicePixelRatio: 1,
        layout: { autoPadding: false, padding: { top: 12.7, left: 0, right: 0, bottom: 0 } },
        plugins: { legend: { display: false }, tooltip: { enabled: false } },
        scales: {
          x: {
            type: "linear",
            min: 0.398,
            max: 4.4956,
            afterBuildTicks: (s: any) => {
              s.ticks = categories.map((_, i) => ({ value: i + 1 }));
            },
            afterFit: (s: any) => {
              s.height = 336.7;
              s.paddingLeft = 0;
              s.paddingRight = 0;
            },
            ticks: { display: false },
            grid: gridOpts,
            border: { display: true, color: "#000000", width: 3 },
          },
          y: {
            type: "linear",
            min: 8.898,
            max: 33.078,
            afterBuildTicks: (s: any) => {
              s.ticks = yTickValues.map((v) => ({ value: v }));
            },
            afterFit: (s: any) => {
              s.width = 231.7;
              s.paddingTop = 0;
              s.paddingBottom = 0;
            },
            ticks: {
              padding: 13,
              color: "#4D4D4D",
              font: { size: 43, family: FONT },
            },
            grid: gridOpts,
            border: { display: true, color: "#000000", width: 3 },
          },
        },
      } as any,
      plugins: [overlayPlugin],
    });
    return () => chart.destroy();
  }, []);

  return (
    <div style={{ position: "absolute", left: 0, top: 0, width: 1290, height: 1650, background: "#ffffff", overflow: "hidden" }}>
      <canvas ref={canvasRef} width={1290} height={1650} style={{ display: "block", width: 1290, height: 1650 }} />
    </div>
  );
}
